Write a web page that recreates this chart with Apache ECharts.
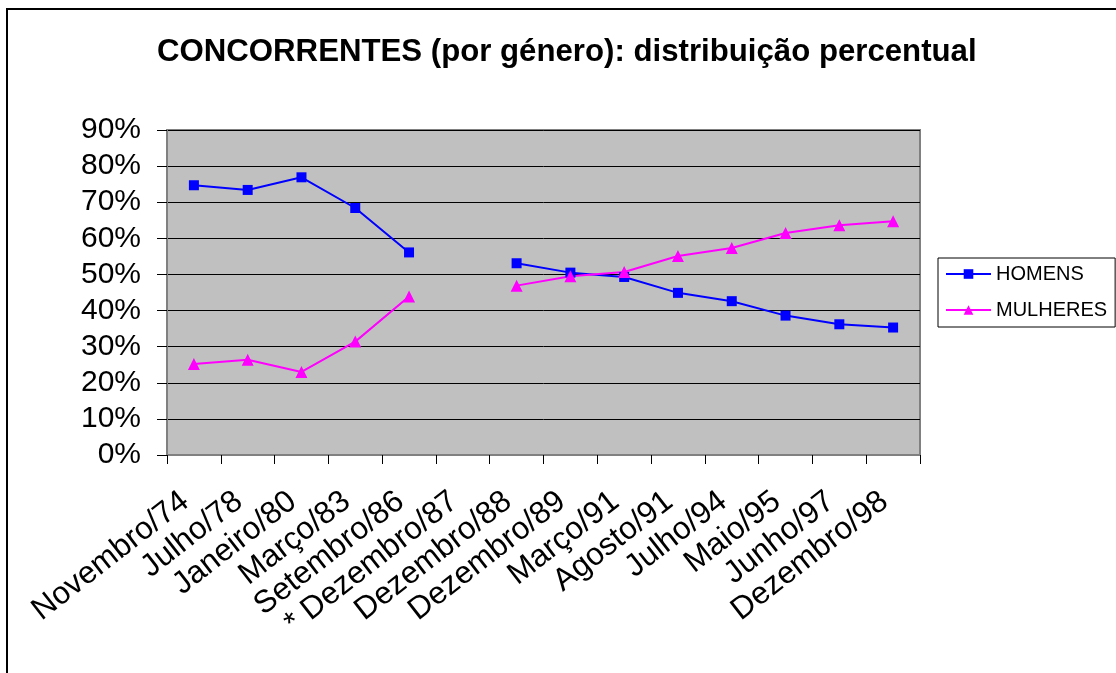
<!DOCTYPE html>
<html>
<head>
<meta charset="utf-8">
<script src="https://cdn.jsdelivr.net/npm/echarts@6/dist/echarts.min.js"></script>
<style>
  html, body { margin: 0; padding: 0; background: #fff; }
  #chart { width: 1116px; height: 673px; }
</style>
</head>
<body>
<div id="chart"></div>
<script>
// datas das candidaturas
var categorias = ['Novembro/74', 'Julho/78', 'Janeiro/80', 'Março/83', 'Setembro/86', '* Dezembro/87',
  'Dezembro/88', 'Dezembro/89', 'Março/91', 'Agosto/91', 'Julho/94', 'Maio/95', 'Junho/97', 'Dezembro/98'];
// percentagens (null = sem dados)
var homens = [74.7, 73.4, 76.9, 68.4, 56.1, null, 53.1, 50.5, 49.3, 44.9, 42.6, 38.6, 36.2, 35.3];
var mulheres = [25.2, 26.4, 23.0, 31.4, 43.9, null, 46.9, 49.5, 50.7, 55.1, 57.3, 61.5, 63.6, 64.7];
var yTicks = [0, 10, 20, 30, 40, 50, 60, 70, 80, 90];

var font = '"Liberation Sans", Arial, sans-serif';
var chart = echarts.init(document.getElementById('chart'));
var option = {
  animation: false,
  backgroundColor: '#fff',
  graphic: [{
    type: 'rect',
    shape: { x: 7, y: 9, width: 1300, height: 800 },
    style: { fill: 'none', stroke: '#000', lineWidth: 2 },
    silent: true
  }],
  title: {
    text: 'CONCORRENTES (por género): distribuição percentual',
    left: 152,
    top: 32,
    textStyle: { fontFamily: font, fontSize: 31.2, fontWeight: 'bold', color: '#000' }
  },
  legend: {
    orient: 'vertical',
    left: 938,
    top: 258,
    width: 175,
    padding: [6, 8, 7, 7],
    itemGap: 16,
    itemWidth: 45,
    itemHeight: 12,
    borderColor: '#000',
    borderWidth: 1,
    backgroundColor: '#fff',
    textStyle: { fontFamily: font, fontSize: 20, color: '#000' },
    data: ['HOMENS', 'MULHERES']
  },
  grid: {
    left: 167, right: 196, top: 130, bottom: 218,
    show: true,
    backgroundColor: '#c0c0c0',
    borderColor: '#808080',
    borderWidth: 2
  },
  xAxis: {
    type: 'category',
    data: categorias,
    boundaryGap: true,
    axisLine: { lineStyle: { color: '#808080', width: 2 } },
    axisTick: { show: true, length: 9, lineStyle: { color: '#000' } },
    axisLabel: {
      rotate: 38,
      margin: 36,
      padding: [0, 11, 0, 0],
      interval: 0,
      fontFamily: font,
      fontSize: 31.5,
      color: '#000'
    },
    splitLine: { show: false }
  },
  yAxis: {
    type: 'value',
    min: yTicks[0],
    max: yTicks[yTicks.length - 1],
    interval: 10,
    axisLine: { show: true, lineStyle: { color: '#808080', width: 2 } },
    axisTick: { show: true, length: 10, lineStyle: { color: '#000' } },
    axisLabel: {
      margin: 26,
      fontFamily: font,
      fontSize: 30,
      color: '#000',
      formatter: '{value}%'
    },
    splitLine: { show: true, lineStyle: { color: '#000', width: 1 } }
  },
  series: [{
    name: 'HOMENS',
    type: 'line',
    data: homens,
    connectNulls: false,
    symbol: 'rect',
    symbolSize: 10,
    color: '#0000ff',
    lineStyle: { color: '#0000ff', width: 2 },
    itemStyle: { color: '#0000ff' }
  }, {
    name: 'MULHERES',
    type: 'line',
    data: mulheres,
    connectNulls: false,
    symbol: 'triangle',
    symbolSize: 12,
    color: '#ff00ff',
    lineStyle: { color: '#ff00ff', width: 2 },
    itemStyle: { color: '#ff00ff' }
  }]
};
chart.setOption(option);
</script>
</body>
</html>
